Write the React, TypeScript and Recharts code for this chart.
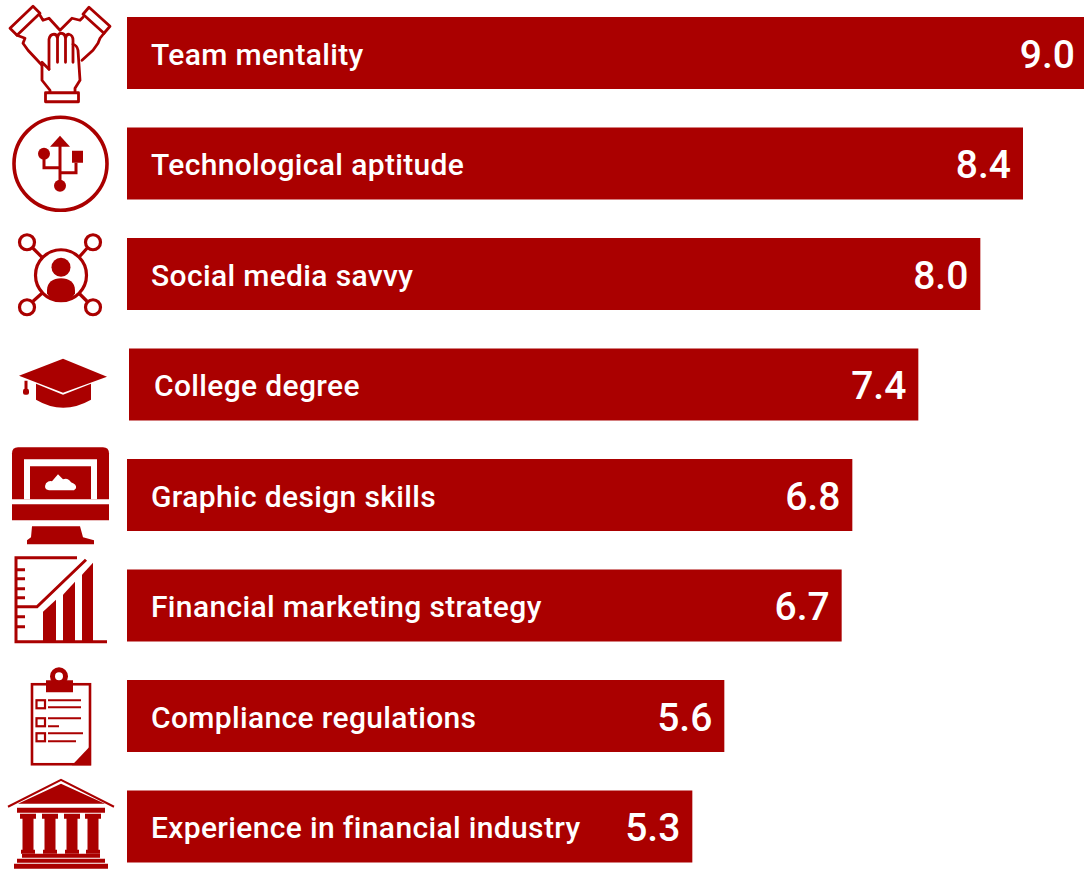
import { Bar, BarChart, LabelList, XAxis, YAxis } from "recharts"

const RED = "#aa0000"

const categories = [
  "Team mentality",
  "Technological aptitude",
  "Social media savvy",
  "College degree",
  "Graphic design skills",
  "Financial marketing strategy",
  "Compliance regulations",
  "Experience in financial industry",
]
const scores = [9.0, 8.4, 8.0, 7.4, 6.8, 6.7, 5.6, 5.3]

const data = categories.map((name, i) => ({ name, score: scores[i] }))

// the college degree row sits a little to the right in the original
const NUDGED = "College degree"
const NUDGED_INDEX = categories.indexOf(NUDGED)

function HandsIcon() {
  return (
    <g fill="none" stroke={RED} strokeWidth={2.8} strokeLinejoin="round" strokeLinecap="round">
      <path d="M10 28 L33 6 L40 13 L17 35 Z" />
      <path d="M110 26 L89 7 L83 14 L104 33 Z" />
      <path d="M40 15 L43 20 L49 18 L60 30 L72 18 L80 20 L83 17" />
      <path d="M17 35 L25 38 L23 43 L28 50 L42 65" />
      <path d="M104 33 L100 38 L98 43 L93 50 L82 60" />
      <path d="M49 69 V39 Q50 34 54 34 Q57 34 57.500 38 V62 M57.500 38 Q58 33 61 33 Q65 33 65.500 38 V62 M65.500 38 Q66 34 69 34 Q73 35 73 40 V62" />
      <path d="M73 44 Q77 45 78 50 L80 80 L75 88 V92 M49 69 L42 62 V80 L50 90 V92" />
      <rect x={45.500} y={92.500} width={33} height={9} />
    </g>
  )
}

function UsbIcon() {
  return (
    <g>
      <circle cx={60.500} cy={164} r={46.500} fill="none" stroke={RED} strokeWidth={3.6} />
      <g fill="none" stroke={RED} strokeWidth={3}>
        <path d="M60 145 V186" />
        <path d="M44 157 V168 H60" />
        <path d="M76 163 V173 H60" />
      </g>
      <path d="M60 136 L70 147 H50 Z" fill={RED} />
      <circle cx={60} cy={186} r={6} fill={RED} />
      <circle cx={44} cy={154} r={6} fill={RED} />
      <rect x={72} y={151} width={11} height={12} fill={RED} />
    </g>
  )
}

function NetworkIcon() {
  return (
    <g>
      <g fill="none" stroke={RED} strokeWidth={3.2}>
        <circle cx={61} cy={275} r={25.500} />
        <circle cx={27} cy={242} r={7.500} />
        <circle cx={93} cy={242} r={7.500} />
        <circle cx={27} cy={307} r={7.500} />
        <circle cx={93} cy={307} r={7.500} />
        <path d="M33 248 L42 257 M87 248 L79 257 M33 301 L42 293 M87 301 L79 293" />
      </g>
      <circle cx={61} cy={267} r={9.500} fill={RED} />
      <path d="M47 293 V290 C47 282 53 278 61 278 C69 278 75 282 75 290 V293 C70 304 52 304 47 293 Z" fill={RED} />
    </g>
  )
}

function CapIcon() {
  return (
    <g fill={RED}>
      <path d="M63 359 L107 377 L63 393 L19 376 Z" />
      <path d="M36 384 L63 395 L91 384 V400 Q63 416 36 400 Z" />
      <rect x={24.500} y={381} width={3} height={10} />
      <rect x={23} y={389} width={6} height={6} rx={2} />
    </g>
  )
}

function MonitorIcon() {
  return (
    <g>
      <path d="M12 453 Q12 447 18 447 H103 Q109 447 109 453 V520 H12 Z" fill={RED} />
      <path d="M24 499 V459 H97 V499 H91 V466 H30 V499 Z" fill="#fff" />
      <rect x={12} y={499} width={97} height={5} fill="#fff" />
      <path d="M49 490 Q43 489 46 483 Q49 480 52 481 L58 474 L63 479 Q68 477 71 482 Q77 484 76 488 L74 490 Z" fill="#fff" />
      <path d="M32 526 H80 L83 537 L94 540 V544 H27 V540 L31 537 Z" fill={RED} />
    </g>
  )
}

function GrowthIcon() {
  return (
    <g>
      <g fill="none" stroke={RED} strokeWidth={3}>
        <path d="M77 558 H16 V642 H107" />
        <path d="M16 570 H25 M16 579 H25 M16 589 H25 M16 598 H25 M16 617 H25 M16 627 H25" />
        <path d="M16 607 H37 L86 560" />
      </g>
      <g fill={RED}>
        <path d="M43 612 L56 600 V642 H43 Z" />
        <path d="M63 595 L75 582 V642 H63 Z" />
        <path d="M82 575 L93 563 V642 H82 Z" />
      </g>
    </g>
  )
}

function ClipboardIcon() {
  return (
    <g>
      <rect x={32} y={684} width={58} height={80} fill="none" stroke={RED} strokeWidth={2.600} />
      <rect x={46} y={680} width={27} height={12} fill={RED} />
      <circle cx={59} cy={676} r={9} fill={RED} />
      <circle cx={59} cy={676} r={4} fill="#fff" />
      <g fill="none" stroke={RED} strokeWidth={2.200}>
        <rect x={36.500} y={700} width={8.500} height={8} />
        <rect x={36.500} y={718} width={8.500} height={8} />
        <rect x={36.500} y={733} width={8.500} height={8} />
        <path d="M48 700 H81 M48 707 H81 M48 718 H81 M48 726 H59 M48 733 H83 M48 741 H76" />
      </g>
      <path d="M91 745 V765 H72 Z" fill={RED} />
      <path d="M75 748 H86 L75 758 Z" fill="#fff" />
    </g>
  )
}

function BankIcon() {
  return (
    <g fill={RED}>
      <path d="M8 807 L61 780 L114 807" fill="none" stroke={RED} strokeWidth={2} />
      <path d="M18 804 L61 784 L105 804 Z" />
      <rect x={17} y={808} width={88} height={5} />
      {[28, 50, 72, 93].map((cx) => (
        <g key={cx}>
          <rect x={cx - 8} y={814} width={16} height={5} />
          <rect x={cx - 5.500} y={818} width={11} height={34} />
          <rect x={cx - 7} y={850} width={14} height={4} />
        </g>
      ))}
      <rect x={22} y={854} width={78} height={4} />
      <rect x={17} y={859} width={88} height={4} />
      <rect x={14} y={864} width={94} height={5} />
    </g>
  )
}

const icons = [HandsIcon, UsbIcon, NetworkIcon, CapIcon, MonitorIcon, GrowthIcon, ClipboardIcon, BankIcon]
// icons are drawn in page coordinates, this is the row each one was drawn around
const iconRows = [53, 164, 274, 385, 495, 606, 716, 827]

function IconTick({ y, payload }: any) {
  const i = categories.indexOf(payload.value)
  const Icon = icons[i]
  return (
    <g transform={`translate(0, ${y - iconRows[i]})`}>
      <Icon />
    </g>
  )
}

function BarShape({ x, y, width, height, name }: any) {
  const shift = name === NUDGED ? 2 : 0
  return <rect x={x + shift} y={y} width={width} height={height} fill={RED} />
}

function NameLabel({ x, y, height, value }: any) {
  const shift = value === NUDGED ? 3 : 0
  return (
    <text
      x={x + 24 + shift}
      y={y + height / 2 + 1}
      dy="0.35em"
      fill="#fff"
      fontFamily="Roboto, sans-serif"
      fontWeight={500}
      fontSize={30}
      letterSpacing={0.35}
    >
      {value}
    </text>
  )
}

function ValueLabel({ x, y, width, height, value, index }: any) {
  const shift = index === NUDGED_INDEX ? 2 : 0
  return (
    <text
      x={x + width - 12 + shift}
      y={y + height / 2 + 1}
      dy="0.35em"
      textAnchor="end"
      fill="#fff"
      fontFamily="Roboto, sans-serif"
      fontWeight={500}
      fontSize={39}
    >
      {Number(value).toFixed(1)}
    </text>
  )
}

export default function App() {
  return (
    <div style={{ position: "absolute", left: 0, top: 0, width: 1084, height: 869, overflow: "hidden", background: "#fff" }}>
      <div style={{ marginTop: -2 }}>
        <BarChart
          layout="vertical"
          width={1087}
          height={884}
          data={data}
          margin={{ top: 0, right: 0, bottom: 0, left: 0 }}
          barSize={72}
        >
          <XAxis type="number" domain={[0, 9]} hide />
          <YAxis
            type="category"
            dataKey="name"
            width={127}
            axisLine={false}
            tickLine={false}
            interval={0}
            tick={<IconTick />}
          />
          <Bar dataKey="score" fill={RED} isAnimationActive={false} shape={<BarShape />}>
            <LabelList dataKey="name" content={<NameLabel />} />
            <LabelList dataKey="score" content={<ValueLabel />} />
          </Bar>
        </BarChart>
      </div>
    </div>
  )
}
